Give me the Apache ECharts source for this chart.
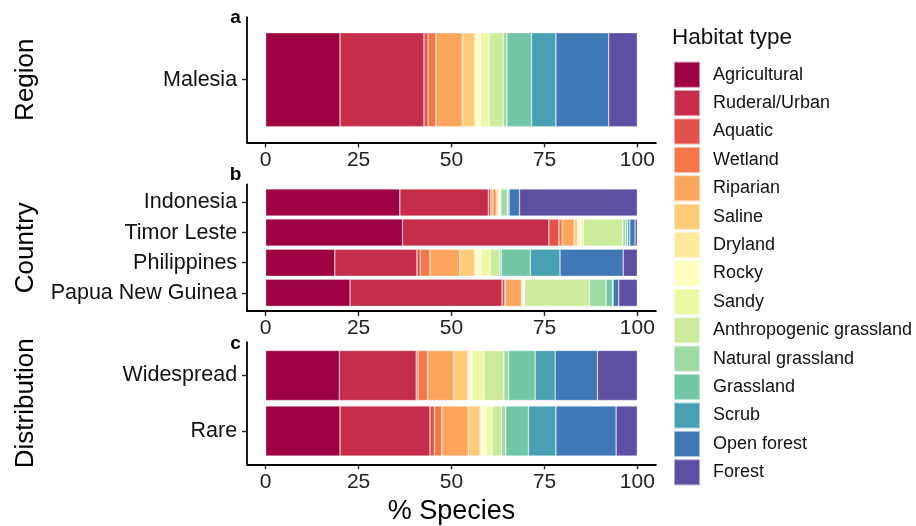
<!DOCTYPE html>
<html>
<head>
<meta charset="utf-8">
<script src="https://cdn.jsdelivr.net/npm/echarts@6/dist/echarts.min.js"></script>
<style>html,body{margin:0;padding:0;background:#fff}#c{width:916px;height:526px}</style>
</head>
<body>
<div id="c"></div>
<script>
// ---- data ----
const habitats = ['Agricultural','Ruderal/Urban','Aquatic','Wetland','Riparian','Saline','Dryland','Rocky','Sandy','Anthropogenic grassland','Natural grassland','Grassland','Scrub','Open forest','Forest'];
const habitatColors = ['#9E0142','#C52D4B','#E2524A','#F57647','#FCA55D','#FECB79','#FEE99A','#FFFFBF','#EDF8A3','#CDEB9D','#A1D9A4','#70C6A5','#48A1B3','#3F78B5','#5E4FA2'];
const regionCats = ['Malesia'];
const countryCats = ['Indonesia','Timor Leste','Philippines','Papua New Guinea'];
const distCats = ['Widespread','Rare'];
// % species per habitat (same order as habitats)
const malesia    = [20.0,22.6,1.1,2.1,7.1,3.4,0.4,1.1,2.3,3.8,1.0,6.6,6.6,14.2,7.7];
const indonesia  = [36.1,23.8,0.7,0.4,1.2,0.5,0.1,0.1,0.1,0.3,1.7,0.2,0.3,2.8,31.7];
const timorLeste = [36.8,39.4,2.7,0.9,3.2,0.9,0.4,0.6,0.6,10.6,0.8,0.5,0.6,1.4,0.6];
const philippines= [18.6,22.1,0.9,2.6,8.0,4.1,0.3,1.4,2.4,2.5,0.5,7.8,8.0,17.0,3.8];
const papuaNG    = [22.7,40.9,0.8,0.1,4.3,0.4,0.1,0.2,0.2,17.4,4.5,1.7,0.2,1.5,5.0];
const widespread = [19.8,20.7,0.5,2.5,7.0,3.9,0.3,1.0,3.0,5.4,1.3,7.1,5.4,11.4,10.7];
const rare       = [20.0,24.2,1.2,2.0,7.1,3.2,0.4,1.2,1.6,2.6,1.1,6.1,7.4,16.2,5.7];
const xTicks = [0,25,50,75,100];
const panelTitles = ['Region','Country','Distribution'];
const panelLetters = ['a','b','c'];
const xTitle = '% Species';
const legendTitle = 'Habitat type';

// ---- layout ----
const FONT = '"Liberation Sans", Arial, sans-serif';
const panels = [
  {cats: regionCats,  rows: [malesia],                               frameTop: 17.1,  frameH: 125.2, barTop: 27.5,  barH: 104.4, letterY: 18},
  {cats: countryCats, rows: [indonesia,timorLeste,philippines,papuaNG], frameTop: 184.4, frameH: 126.5, barTop: 187.4, barH: 120.5, letterY: 175},
  {cats: distCats,    rows: [widespread, rare],                       frameTop: 342.2, frameH: 122.1, barTop: 347.75, barH: 111,  letterY: 344}
];
const GL = 247.1, GW = 408.8;

const grid = [], xAxis = [], yAxis = [], series = [], graphic = [];
const lineStyle = {color: '#000', width: 1.8};
const tickStyle = {color: '#222', width: 1.4};

panels.forEach((p, i) => {
  const fi = 2 * i, bi = 2 * i + 1;
  grid.push({left: GL, width: GW, top: p.frameTop, height: p.frameH});
  grid.push({left: GL, width: GW, top: p.barTop, height: p.barH});
  xAxis.push({gridIndex: fi, type: 'value', min: -5, max: 105,
    axisLine: {show: true, onZero: false, lineStyle},
    axisTick: {show: true, customValues: xTicks, length: 5, lineStyle: tickStyle},
    axisLabel: {customValues: xTicks, fontSize: 21, color: '#222', margin: 7, fontFamily: FONT},
    splitLine: {show: false}});
  xAxis.push({gridIndex: bi, type: 'value', min: -5, max: 105, show: false});
  yAxis.push({gridIndex: fi, type: 'value', min: 0, max: 1,
    axisLine: {show: true, onZero: false, lineStyle},
    axisTick: {show: false}, axisLabel: {show: false}, splitLine: {show: false}});
  yAxis.push({gridIndex: bi, type: 'category', data: p.cats, inverse: true,
    axisLine: {show: false, onZero: false},
    axisTick: {show: true, alignWithLabel: true, length: 5, lineStyle: tickStyle},
    axisLabel: {fontSize: 21.5, color: '#111', margin: 10, fontFamily: FONT},
    splitLine: {show: false}});
  habitats.forEach((h, k) => {
    series.push({type: 'bar', name: h, xAxisIndex: bi, yAxisIndex: bi, stack: 's' + i,
      barCategoryGap: '10%',
      data: p.rows.map(r => r[k]),
      itemStyle: {color: habitatColors[k], borderColor: 'rgba(255,255,255,0.5)', borderWidth: 0.6},
      emphasis: {disabled: true}, silent: true});
  });
  graphic.push({type: 'text', x: 235.5, y: p.letterY,
    style: {text: panelLetters[i], font: 'bold 19px ' + FONT, fill: '#000', textAlign: 'center', textVerticalAlign: 'middle'}});
  graphic.push({type: 'text', x: 26, y: p.frameTop + p.frameH / 2, rotation: Math.PI / 2,
    style: {text: panelTitles[i], font: '26px ' + FONT, fill: '#000', textAlign: 'center', textVerticalAlign: 'middle'}});
});
graphic.push({type: 'text', x: GL + GW / 2, y: 512,
  style: {text: xTitle, font: '27px ' + FONT, fill: '#000', textAlign: 'center', textVerticalAlign: 'middle'}});

const chart = echarts.init(document.getElementById('c'), null, {renderer: 'canvas'});
chart.setOption({
  animation: false,
  backgroundColor: '#fff',
  textStyle: {fontFamily: FONT},
  title: {text: legendTitle, left: 672, top: 26, padding: 0,
    textStyle: {fontSize: 22.5, fontWeight: 'normal', color: '#111', fontFamily: FONT}},
  legend: {orient: 'vertical', left: 673, top: 60.7, padding: 0, itemWidth: 26, itemHeight: 26, itemGap: 0.4,
    icon: 'rect', data: habitats, selectedMode: false,
    textStyle: {fontSize: 18, color: '#111', fontFamily: FONT, padding: [0, 0, 0, 8]}},
  grid, xAxis, yAxis, series, graphic
});
</script>
</body>
</html>
